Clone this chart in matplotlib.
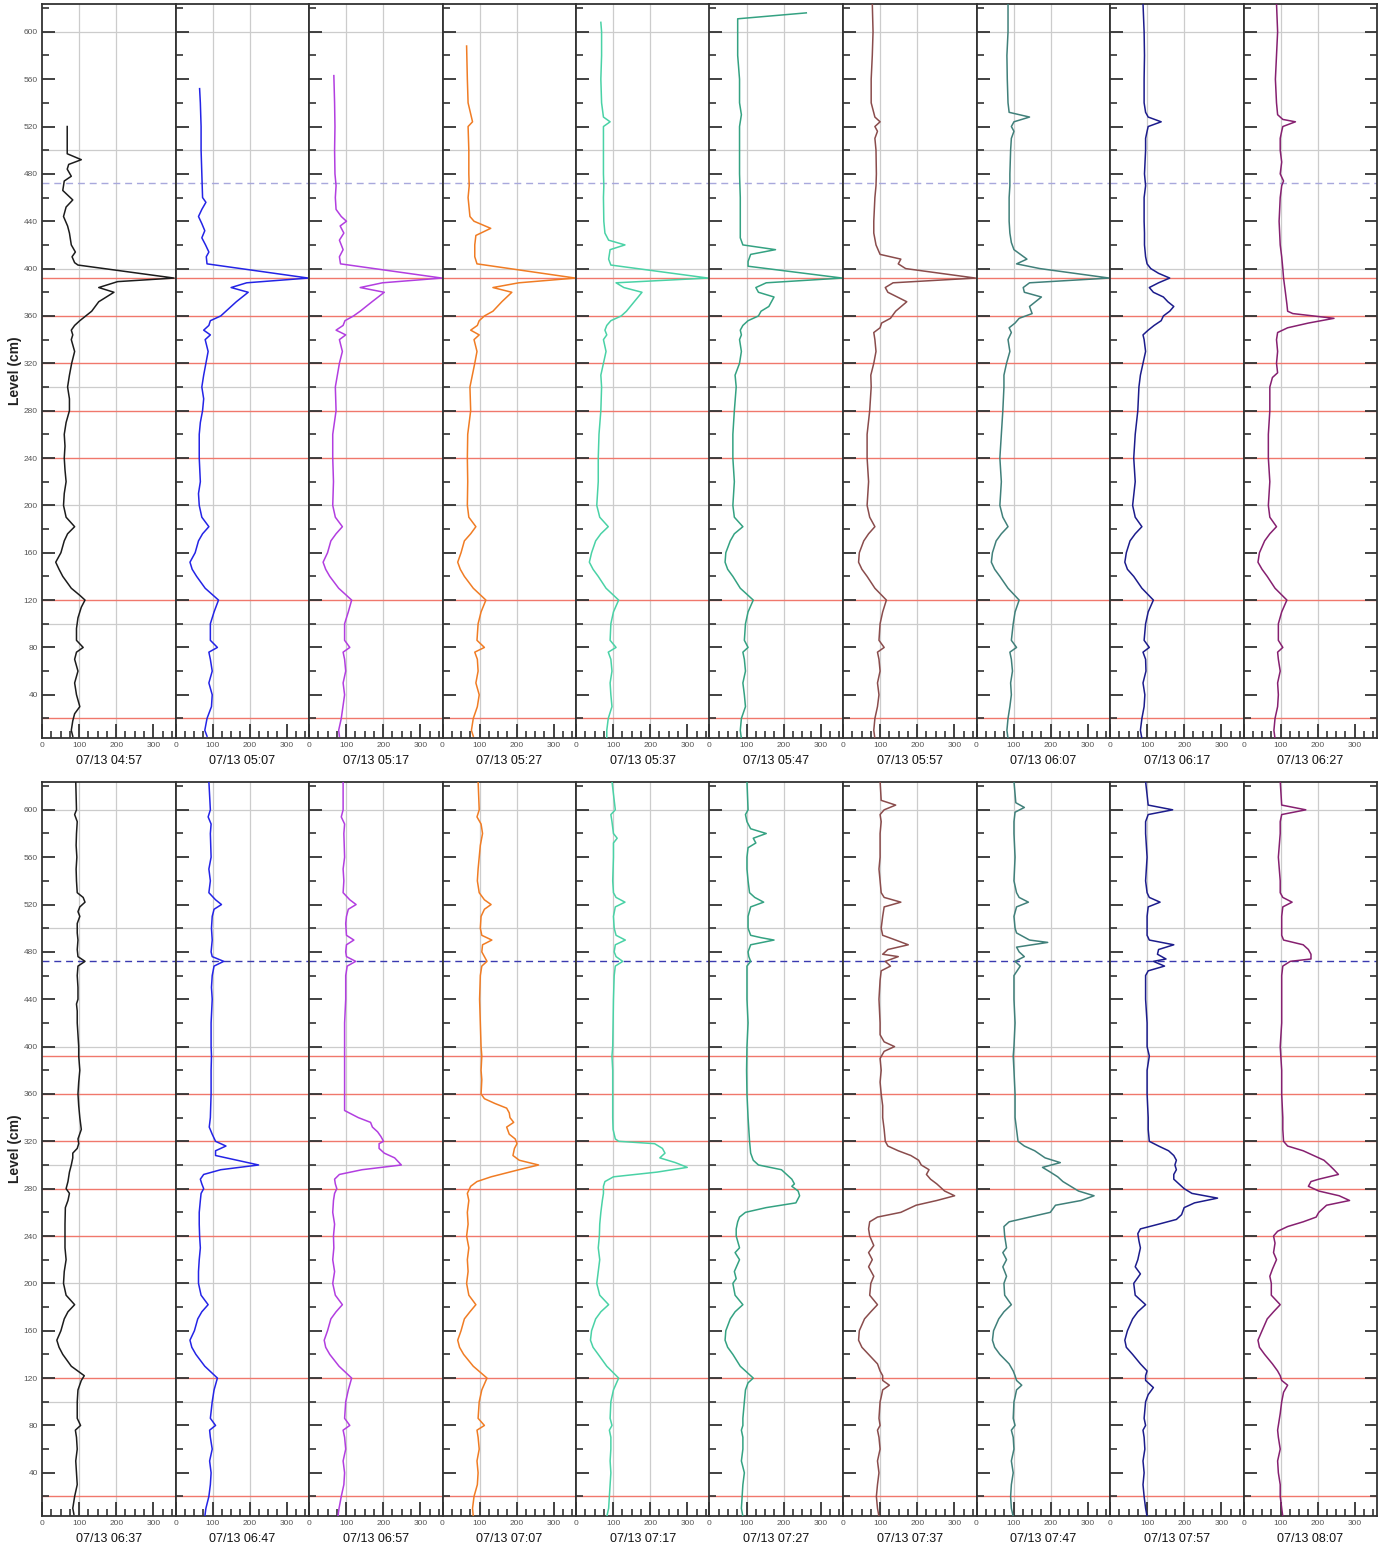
import matplotlib
matplotlib.use("Agg")
import matplotlib.pyplot as plt
from matplotlib.ticker import MultipleLocator

plt.rcParams['font.family'] = ['Liberation Sans', 'DejaVu Sans']

# ---------------- data ----------------
times_top = ["07/13 04:57", "07/13 05:07", "07/13 05:17", "07/13 05:27", "07/13 05:37",
             "07/13 05:47", "07/13 05:57", "07/13 06:07", "07/13 06:17", "07/13 06:27"]
times_bottom = ["07/13 06:37", "07/13 06:47", "07/13 06:57", "07/13 07:07", "07/13 07:17",
                "07/13 07:27", "07/13 07:37", "07/13 07:47", "07/13 07:57", "07/13 08:07"]

colors = ["#1c1c1c", "#2424e6", "#b23ee0", "#f07c24", "#4ad2a6",
          "#34a282", "#8a4c4c", "#40807a", "#1c1c8c", "#862070"]

red_levels = [392, 360, 320, 280, 240, 120, 20]
dashed_level = 472

# (level cm, value) pairs
p0457 = [(520,68),(497,68),(492,106),(488,72),(484,68),(478,79),(474,60),(466,56),(458,83),(452,65),
         (444,58),(436,69),(430,74),(420,79),(414,90),(410,81),(405,88),(403,97),(392,356),(389,204),
         (384,153),(380,194),(372,153),(364,134),(356,102),(352,88),(348,79),(344,83),(340,79),(330,88),
         (320,80),(310,74),(300,69),(290,74),(280,74),(270,65),(260,60),(250,62),(240,60),(230,62),
         (220,65),(210,60),(200,58),(190,65),(182,88),(176,69),(170,60),(160,51),(152,37),(146,46),
         (140,56),(130,79),(124,102),(120,116),(114,106),(105,97),(96,93),(86,93),(80,111),(76,93),
         (70,88),(60,97),(50,88),(40,93),(30,102),(24,88),(18,83),(10,79),(5,83)]
p0507 = [(552,65),(540,67),(520,69),(500,69),(480,71),(460,73),(456,82),(450,71),(444,62),(438,71),
         (432,79),(426,71),(420,81),(414,90),(410,83),(404,85),(392,358),(388,192),(384,150),(380,196),
         (372,164),(364,136),(360,122),(356,94),(352,90),(348,76),(344,94),(340,80),(330,88),(320,82),
         (310,76),(300,71),(290,76),(280,73),(270,67),(260,64),(240,64),(220,67),(210,62),(200,64),
         (190,71),(182,90),(176,73),(170,62),(160,53),(152,39),(146,45),(140,57),(130,80),(120,116),
         (110,104),(100,94),(86,94),(80,113),(76,90),(70,94),(60,99),(50,90),(40,99),(30,97),
         (20,85),(10,79),(5,85)]
p0517 = [(563,67),(540,69),(520,70),(500,69),(480,70),(470,73),(460,71),(450,73),(444,87),(440,101),
         (436,84),(430,94),(424,82),(416,92),(410,82),(404,85),(392,358),(388,198),(384,138),(380,203),
         (372,170),(364,138),(360,120),(356,97),(352,92),(348,73),(344,99),(340,82),(330,90),(320,82),
         (300,71),(280,73),(260,64),(240,64),(220,66),(200,64),(190,71),(182,90),(176,73),(170,59),
         (160,50),(152,38),(146,45),(140,56),(130,80),(120,115),(110,106),(100,96),(86,96),(80,110),
         (76,92),(70,96),(60,99),(50,92),(40,96),(20,87),(10,80),(5,82)]
p0527 = [(588,65),(560,67),(540,69),(524,81),(520,69),(500,71),(480,71),(470,72),(460,69),(444,74),
         (440,85),(434,130),(428,90),(420,87),(410,87),(404,93),(392,358),(388,206),(384,136),(380,187),
         (372,160),(364,136),(360,113),(356,99),(352,94),(348,76),(344,99),(340,85),(330,93),(320,87),
         (300,74),(280,76),(260,68),(240,67),(220,68),(200,67),(190,71),(182,90),(176,76),(170,59),
         (160,50),(152,41),(146,48),(140,59),(130,83),(120,117),(110,104),(100,96),(86,93),(80,113),
         (76,87),(70,94),(60,96),(50,90),(40,99),(30,94),(20,83),(10,78),(5,83)]
p0537 = [(608,67),(600,69),(580,69),(560,67),(540,69),(528,74),(524,92),(520,74),(500,74),(480,74),
         (470,75),(460,74),(440,75),(430,78),(424,88),(420,132),(416,92),(408,88),(403,94),(392,356),
         (388,108),(384,129),(380,178),(372,157),(364,136),(360,122),(356,94),(352,83),(348,78),(344,83),
         (340,74),(330,81),(320,74),(310,67),(300,69),(280,67),(260,62),(240,60),(220,60),(200,56),
         (190,64),(182,87),(176,67),(170,53),(160,42),(152,36),(146,46),(140,60),(130,81),(120,115),
         (110,101),(100,94),(86,92),(80,108),(76,87),(70,94),(60,97),(50,92),(40,94),(30,97),
         (20,87),(10,83),(3,83)]
p0547 = [(616,261),(611,76),(600,76),(580,76),(560,81),(540,81),(530,86),(520,81),(500,81),(480,81),
         (460,83),(440,83),(426,83),(420,90),(416,178),(412,111),(406,104),(402,104),(392,358),(388,153),
         (384,125),(380,132),(376,174),(368,160),(364,139),(360,132),(356,104),(352,90),(348,83),(344,86),
         (340,81),(330,86),(320,81),(310,69),(300,72),(280,67),(260,63),(240,63),(220,67),(200,63),
         (190,67),(182,90),(176,67),(170,56),(160,44),(152,42),(146,49),(140,63),(130,83),(120,118),
         (110,104),(100,97),(86,94),(80,104),(76,90),(70,94),(60,97),(50,90),(40,94),(30,97),
         (20,86),(10,83),(3,86)]
p0557 = [(624,79),(600,81),(580,79),(560,76),(540,76),(528,86),(524,100),(520,86),(516,93),(510,86),
         (500,89),(480,90),(470,89),(460,86),(440,83),(430,83),(420,89),(412,100),(408,156),(404,149),
         (400,169),(392,357),(388,135),(384,114),(380,121),(372,172),(364,142),(358,128),(354,104),(350,100),
         (346,83),(340,86),(330,89),(320,83),(310,75),(300,76),(280,72),(260,65),(240,65),(220,69),
         (200,65),(190,72),(182,86),(176,69),(170,56),(160,44),(152,42),(146,51),(140,65),(130,86),
         (120,117),(110,107),(100,100),(86,97),(80,111),(76,93),(70,97),(60,100),(50,93),(40,97),
         (30,93),(20,86),(10,83),(3,86)]
p0607 = [(624,85),(600,85),(580,82),(560,83),(540,85),(532,88),(528,143),(524,101),(520,94),(516,101),
         (510,94),(500,92),(480,90),(470,90),(460,88),(440,88),(430,90),(422,94),(416,101),(408,136),
         (404,108),(400,171),(392,358),(388,143),(384,126),(380,129),(376,175),(368,143),(362,150),(358,115),
         (354,104),(350,88),(346,94),(340,85),(330,90),(320,81),(310,74),(300,74),(280,71),(260,67),
         (240,63),(220,67),(200,63),(190,71),(182,85),(176,67),(170,53),(160,43),(152,40),(146,49),
         (140,63),(130,85),(120,115),(110,104),(100,99),(86,94),(80,108),(76,90),(70,94),(60,97),
         (50,92),(40,94),(30,90),(20,85),(10,82),(3,85)]
p0617 = [(624,89),(600,92),(580,93),(560,92),(540,92),(532,96),(528,103),(524,138),(520,103),(516,100),
         (510,96),(500,96),(480,93),(470,96),(460,92),(440,92),(430,93),(420,93),(410,96),(404,100),
         (400,110),(396,131),(392,161),(388,131),(384,106),(380,117),(376,144),(372,156),(368,172),(364,161),
         (360,144),(356,138),(352,119),(348,103),(344,89),(340,92),(330,96),(320,89),(310,82),(300,78),
         (280,75),(260,68),(240,64),(220,68),(200,61),(190,68),(182,86),(176,68),(170,54),(160,44),
         (152,40),(146,47),(140,64),(130,86),(120,117),(110,103),(100,96),(86,92),(80,106),(76,89),
         (70,96),(60,97),(50,89),(40,94),(30,92),(20,86),(10,82),(3,86)]
p0627 = [(624,89),(600,92),(580,89),(560,86),(540,89),(530,92),(526,106),(524,140),(520,106),(516,103),
         (510,99),(500,99),(490,103),(480,99),(474,108),(470,103),(460,99),(440,96),(420,99),(410,103),
         (400,106),(392,108),(380,113),(370,117),(364,119),(362,133),(358,244),(354,175),(350,119),(346,92),
         (340,89),(330,92),(320,89),(312,92),(308,78),(300,71),(280,71),(260,67),(240,67),(220,71),
         (200,67),(190,71),(182,89),(176,71),(170,57),(160,43),(152,39),(146,50),(140,64),(130,85),
         (120,117),(110,103),(100,94),(86,94),(80,106),(76,92),(70,94),(60,99),(50,92),(40,94),
         (30,92),(20,85),(10,82),(3,85)]

p0637 = [(624,91),(600,93),(596,88),(590,95),(580,93),(570,92),(560,94),(550,92),(540,93),(530,95),
         (526,111),(522,116),(518,102),(514,97),(510,102),(504,95),(496,95),(490,97),(482,95),(476,97),
         (472,116),(468,97),(460,95),(450,97),(440,97),(436,93),(430,95),(420,95),(410,97),(400,99),
         (392,99),(380,102),(370,99),(360,97),(350,99),(340,102),(330,106),(322,97),(318,99),(314,95),
         (310,83),(306,83),(300,79),(294,74),(286,70),(280,65),(276,74),(270,70),(264,63),(250,62),
         (240,62),(230,62),(220,65),(210,60),(200,58),(190,65),(182,88),(176,70),(170,60),(160,51),
         (152,40),(146,46),(140,56),(130,79),(122,114),(118,106),(110,97),(100,95),(86,95),(80,104),
         (76,90),(70,93),(60,95),(50,91),(40,93),(30,95),(20,88),(10,83),(5,86)]
p0647 = [(624,90),(600,94),(594,88),(588,96),(580,94),(560,96),(550,90),(540,94),(530,90),(524,108),
         (520,124),(516,104),(510,99),(500,97),(490,99),(480,96),(476,99),(472,130),(468,104),(460,99),
         (450,97),(440,99),(420,96),(400,96),(392,97),(380,96),(360,96),(340,94),(332,91),(326,99),
         (320,108),(316,136),(312,108),(308,108),(300,224),(296,122),(292,76),(288,67),(284,71),(280,76),
         (276,69),(270,67),(260,64),(250,64),(240,65),(230,67),(220,64),(210,62),(200,62),(190,69),
         (182,88),(176,71),(170,60),(160,51),(152,39),(146,44),(140,55),(130,79),(120,113),(110,104),
         (100,99),(86,94),(80,108),(76,92),(70,94),(60,99),(50,92),(40,96),(30,94),(20,90),
         (10,82),(3,79)]
p0657 = [(624,92),(600,92),(594,87),(588,96),(580,94),(560,96),(550,92),(540,94),(530,92),(524,110),
         (520,127),(516,106),(510,101),(504,99),(494,101),(490,121),(486,101),(480,99),(476,101),(472,126),
         (468,103),(460,99),(440,99),(420,96),(400,96),(380,96),(360,96),(346,96),(340,133),(336,166),
         (332,171),(328,185),(324,194),(320,201),(318,189),(314,189),(310,203),(306,231),(300,249),(296,143),
         (292,82),(288,69),(284,71),(280,75),(276,69),(270,66),(260,64),(250,69),(240,66),(230,67),
         (220,64),(210,69),(200,64),(190,71),(182,90),(176,73),(170,59),(160,50),(152,41),(146,45),
         (140,56),(130,81),(120,115),(110,106),(100,99),(86,96),(80,110),(76,92),(70,96),(60,99),
         (50,92),(40,96),(30,94),(20,87),(10,81),(3,78)]
p0707 = [(624,96),(600,99),(594,93),(588,104),(580,108),(570,102),(560,99),(550,96),(540,94),(530,99),
         (524,113),(520,131),(516,113),(510,104),(500,102),(494,106),(490,133),(486,108),(480,106),(476,113),
         (472,120),(468,106),(460,102),(440,100),(420,102),(400,104),(392,106),(380,104),(372,106),(360,104),
         (356,113),(352,141),(348,173),(344,180),(340,182),(336,192),(332,173),(326,180),(322,196),(318,201),
         (314,194),(308,190),(304,207),(300,259),(296,206),(290,131),(286,93),(282,76),(276,67),(270,71),
         (260,67),(250,69),(240,65),(230,71),(220,67),(210,69),(200,65),(190,71),(182,90),(176,74),
         (170,59),(160,50),(152,41),(146,46),(140,57),(130,83),(120,120),(110,106),(100,99),(86,96),
         (80,113),(76,93),(70,96),(60,99),(50,93),(40,96),(30,94),(20,85),(10,81),(3,83)]
p0717 = [(624,97),(600,106),(596,94),(590,97),(580,101),(576,111),(572,101),(560,101),(550,100),(540,99),
         (530,101),(526,108),(522,132),(518,106),(510,101),(500,103),(494,108),(490,133),(486,106),(480,103),
         (476,108),(472,126),(468,106),(460,103),(440,101),(420,100),(400,99),(392,97),(380,99),(360,99),
         (340,99),(330,100),(322,106),(320,115),(318,212),(314,233),(310,240),(306,226),(302,268),(298,300),
         (294,219),(290,101),(286,78),(282,74),(276,74),(270,71),(260,67),(250,64),(240,63),(230,60),
         (220,64),(210,60),(200,56),(190,64),(182,88),(176,67),(170,53),(160,42),(152,39),(146,46),
         (140,60),(130,83),(120,115),(110,101),(100,94),(86,92),(80,97),(76,90),(70,94),(60,94),
         (50,92),(40,94),(30,92),(20,90),(10,88),(3,83)]
p0727 = [(624,101),(600,104),(596,97),(590,101),(584,111),(580,153),(576,118),(572,125),(568,104),(560,101),
         (550,101),(540,104),(530,108),(526,122),(522,146),(518,111),(510,104),(500,104),(494,111),(492,139),
         (490,174),(486,111),(480,104),(476,106),(472,111),(468,101),(460,101),(440,101),(420,104),(400,101),
         (380,100),(360,101),(340,104),(320,108),(310,111),(304,118),(300,132),(296,194),(292,208),(288,222),
         (284,229),(282,222),(278,239),(274,243),(268,233),(264,153),(260,97),(256,81),(252,76),(246,72),
         (240,72),(230,81),(226,69),(220,81),(210,67),(204,72),(200,63),(190,69),(182,90),(176,69),
         (170,56),(160,44),(152,42),(146,49),(140,63),(130,83),(120,118),(116,104),(110,97),(100,94),
         (86,90),(80,90),(76,86),(70,90),(60,90),(50,86),(40,94),(30,90),(20,88),(10,86),(3,90)]
p0737 = [(624,100),(608,103),(604,142),(600,111),(596,100),(590,103),(580,100),(560,100),(550,97),(540,100),
         (530,103),(526,111),(522,156),(518,111),(510,107),(500,103),(494,107),(490,142),(486,176),(482,121),
         (478,107),(476,149),(472,114),(468,128),(464,103),(456,100),(440,97),(420,100),(410,100),(404,111),
         (400,139),(396,111),(390,100),(380,103),(370,100),(360,103),(350,107),(340,107),(330,111),(320,114),
         (316,121),(312,149),(308,183),(304,204),(300,211),(296,232),(292,225),(288,236),(284,253),(278,274),
         (274,301),(270,253),(266,197),(260,156),(256,93),(252,72),(246,69),(240,72),(232,83),(226,69),
         (220,79),(214,69),(206,83),(200,75),(190,72),(182,93),(176,75),(170,58),(160,44),(152,42),
         (146,51),(140,69),(132,93),(126,100),(122,107),(118,107),(114,125),(110,107),(104,103),(100,100),
         (86,97),(80,100),(76,93),(70,97),(60,100),(50,93),(40,97),(30,93),(20,90),(10,93),(3,97)]
p0747 = [(624,101),(606,106),(602,129),(598,104),(590,101),(580,101),(560,104),(540,101),(530,108),(526,115),
         (522,140),(518,108),(510,101),(500,104),(496,108),(490,143),(488,192),(484,108),(480,115),(476,129),
         (472,104),(468,118),(460,101),(440,101),(420,104),(400,101),(392,99),(380,101),(360,104),(340,104),
         (330,108),(320,112),(316,129),(312,157),(306,185),(302,226),(298,178),(294,199),(290,219),(286,233),
         (282,254),(278,275),(274,317),(270,282),(266,213),(260,199),(256,143),(252,88),(248,74),(240,76),
         (230,81),(226,71),(220,81),(214,71),(206,81),(200,74),(190,76),(182,94),(176,74),(170,60),
         (160,46),(152,43),(146,49),(140,63),(132,88),(126,99),(122,104),(118,108),(114,122),(110,108),
         (104,104),(100,101),(86,99),(80,104),(76,94),(70,99),(60,101),(50,94),(40,99),(30,94),
         (20,92),(10,94),(3,99)]
p0757 = [(624,96),(604,103),(600,169),(596,103),(590,96),(580,96),(560,100),(540,96),(530,100),(526,106),
         (522,135),(518,103),(510,100),(500,100),(494,100),(490,106),(486,172),(482,131),(478,128),(474,151),
         (472,117),(468,147),(464,103),(460,96),(440,96),(420,100),(400,100),(392,106),(380,100),(360,100),
         (340,103),(330,103),(320,106),(316,131),(312,158),(308,172),(304,179),(300,175),(296,179),(292,172),
         (288,172),(284,186),(280,200),(276,221),(272,290),(268,228),(264,200),(258,193),(254,179),(250,131),
         (246,82),(242,75),(236,78),(230,82),(220,75),(214,68),(208,82),(200,64),(190,68),(182,96),
         (176,75),(170,61),(160,47),(152,40),(146,44),(140,61),(132,82),(126,100),(122,96),(118,96),
         (112,117),(106,103),(100,96),(86,92),(80,96),(76,89),(70,92),(60,94),(50,89),(40,92),
         (30,89),(20,92),(10,96),(3,100)]
p0807 = [(624,99),(604,103),(600,168),(596,103),(590,99),(580,99),(560,94),(540,99),(530,99),(526,106),
         (522,131),(518,106),(510,103),(500,103),(494,103),(490,108),(486,161),(482,175),(478,182),(474,182),
         (472,126),(468,106),(460,103),(440,103),(420,103),(400,99),(380,103),(360,103),(340,106),(330,106),
         (320,108),(316,119),(312,161),(308,189),(304,217),(300,231),(296,244),(292,256),(288,203),(286,182),
         (282,175),(278,203),(274,258),(270,286),(266,224),(260,203),(256,196),(252,161),(248,119),(244,92),
         (240,81),(234,85),(226,81),(220,89),(212,78),(206,71),(200,75),(190,75),(182,99),(176,81),
         (170,64),(160,50),(152,39),(146,43),(140,57),(132,78),(126,92),(122,99),(118,103),(114,119),
         (108,108),(100,103),(90,99),(80,94),(76,92),(70,94),(60,99),(50,92),(40,94),(30,99),
         (20,99),(10,103),(3,106)]

profiles_top = [p0457, p0507, p0517, p0527, p0537, p0547, p0557, p0607, p0617, p0627]
profiles_bottom = [p0637, p0647, p0657, p0707, p0717, p0727, p0737, p0747, p0757, p0807]

# ---------------- layout ----------------
W, H = 1385, 1549
fig = plt.figure(figsize=(W / 100, H / 100), dpi=100)

left_px, right_px = 42, 1377
pw = (right_px - left_px) / 10
rows = [(4, 738, profiles_top, times_top, "#a8a8dc"),
        (782, 1516, profiles_bottom, times_bottom, "#3a3ab0")]

for (top_px, bot_px, profs, times, dcol) in rows:
    for i in range(10):
        x0 = left_px + i * pw
        ax = fig.add_axes([x0 / W, 1 - bot_px / H, pw / W, (bot_px - top_px) / H])
        ax.set_xlim(0, 360)
        ax.set_ylim(3.5, 623.5)
        for lv in range(100, 601, 100):
            ax.axhline(lv, color="#cccccc", lw=0.9, zorder=0)
        for xv in (100, 200):
            ax.axvline(xv, color="#cccccc", lw=0.9, zorder=0)
        for lv in red_levels:
            ax.axhline(lv, color="#f0786c", lw=1.0, zorder=1)
        ax.axhline(dashed_level, color=dcol, lw=1.0, dashes=(5, 3.5), zorder=1)
        lv_, val_ = zip(*profs[i])
        ax.plot(val_, lv_, color=colors[i], lw=1.1, zorder=3)

        ax.set_xticks([0, 100, 200, 300])
        ax.xaxis.set_minor_locator(MultipleLocator(25))
        ax.set_yticks(list(range(40, 601, 40)))
        ax.yaxis.set_minor_locator(MultipleLocator(20))
        ax.tick_params(axis='x', which='major', direction='in', length=10, width=1.3,
                       color="#333333", labelsize=6, labelcolor="#555555", pad=3)
        ax.tick_params(axis='x', which='minor', direction='in', length=5, width=1.2, color="#333333")
        ax.tick_params(axis='y', which='major', direction='in', length=9, width=1.3,
                       color="#333333", labelsize=6, labelcolor="#555555", pad=3,
                       labelleft=(i == 0), right=(i == 9))
        ax.tick_params(axis='y', which='minor', direction='in', length=5, width=1.2,
                       color="#333333", right=(i == 9))
        for s in ax.spines.values():
            s.set_color("#333333")
            s.set_linewidth(1.3)
        fig.text((x0 + pw / 2) / W, 1 - (bot_px + 23) / H, times[i], ha='center', va='center',
                 fontsize=9, color="#111111")
    fig.text(15 / W, 1 - ((top_px + bot_px) / 2) / H, "Level (cm)", rotation=90, ha='center',
             va='center', fontsize=10, fontweight='bold', color="#222222")

fig.savefig("out.png", dpi=100)
